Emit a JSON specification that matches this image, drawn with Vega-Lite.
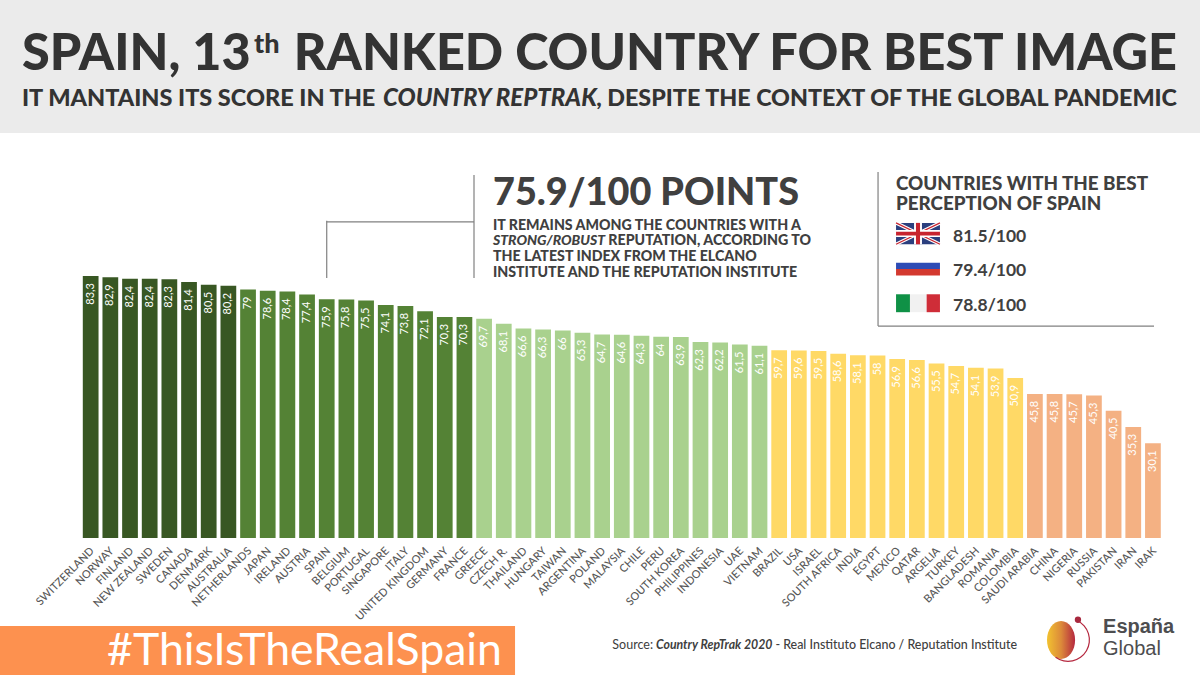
{
  "$schema": "https://vega.github.io/schema/vega-lite/v6.json",
  "width": 1200,
  "height": 675,
  "padding": 0,
  "autosize": {"type": "none"},
  "background": "#ffffff",
  "config": {"view": {"stroke": null}, "text": {"font": "Lato"}},
  "datasets": {
    "scores": [
      {"country": "SWITZERLAND", "score": 83.3, "tier": "Excellent"},
      {"country": "NORWAY", "score": 82.9, "tier": "Excellent"},
      {"country": "FINLAND", "score": 82.4, "tier": "Excellent"},
      {"country": "NEW ZEALAND", "score": 82.4, "tier": "Excellent"},
      {"country": "SWEDEN", "score": 82.3, "tier": "Excellent"},
      {"country": "CANADA", "score": 81.4, "tier": "Excellent"},
      {"country": "DENMARK", "score": 80.5, "tier": "Excellent"},
      {"country": "AUSTRALIA", "score": 80.2, "tier": "Excellent"},
      {"country": "NETHERLANDS", "score": 79, "tier": "Strong"},
      {"country": "JAPAN", "score": 78.6, "tier": "Strong"},
      {"country": "IRELAND", "score": 78.4, "tier": "Strong"},
      {"country": "AUSTRIA", "score": 77.4, "tier": "Strong"},
      {"country": "SPAIN", "score": 75.9, "tier": "Strong"},
      {"country": "BELGIUM", "score": 75.8, "tier": "Strong"},
      {"country": "PORTUGAL", "score": 75.5, "tier": "Strong"},
      {"country": "SINGAPORE", "score": 74.1, "tier": "Strong"},
      {"country": "ITALY", "score": 73.8, "tier": "Strong"},
      {"country": "UNITED KINGDOM", "score": 72.1, "tier": "Strong"},
      {"country": "GERMANY", "score": 70.3, "tier": "Strong"},
      {"country": "FRANCE", "score": 70.3, "tier": "Strong"},
      {"country": "GREECE", "score": 69.7, "tier": "Moderate"},
      {"country": "CZECH R.", "score": 68.1, "tier": "Moderate"},
      {"country": "THAILAND", "score": 66.6, "tier": "Moderate"},
      {"country": "HUNGARY", "score": 66.3, "tier": "Moderate"},
      {"country": "TAIWAN", "score": 66, "tier": "Moderate"},
      {"country": "ARGENTINA", "score": 65.3, "tier": "Moderate"},
      {"country": "POLAND", "score": 64.7, "tier": "Moderate"},
      {"country": "MALAYSIA", "score": 64.6, "tier": "Moderate"},
      {"country": "CHILE", "score": 64.3, "tier": "Moderate"},
      {"country": "PERU", "score": 64, "tier": "Moderate"},
      {"country": "SOUTH KOREA", "score": 63.9, "tier": "Moderate"},
      {"country": "PHILIPPINES", "score": 62.3, "tier": "Moderate"},
      {"country": "INDONESIA", "score": 62.2, "tier": "Moderate"},
      {"country": "UAE", "score": 61.5, "tier": "Moderate"},
      {"country": "VIETNAM", "score": 61.1, "tier": "Moderate"},
      {"country": "BRAZIL", "score": 59.7, "tier": "Weak"},
      {"country": "USA", "score": 59.6, "tier": "Weak"},
      {"country": "ISRAEL", "score": 59.5, "tier": "Weak"},
      {"country": "SOUTH AFRICA", "score": 58.6, "tier": "Weak"},
      {"country": "INDIA", "score": 58.1, "tier": "Weak"},
      {"country": "EGYPT", "score": 58, "tier": "Weak"},
      {"country": "MEXICO", "score": 56.9, "tier": "Weak"},
      {"country": "QATAR", "score": 56.6, "tier": "Weak"},
      {"country": "ARGELIA", "score": 55.5, "tier": "Weak"},
      {"country": "TURKEY", "score": 54.7, "tier": "Weak"},
      {"country": "BANGLADESH", "score": 54.1, "tier": "Weak"},
      {"country": "ROMANIA", "score": 53.9, "tier": "Weak"},
      {"country": "COLOMBIA", "score": 50.9, "tier": "Weak"},
      {"country": "SAUDI ARABIA", "score": 45.8, "tier": "Poor"},
      {"country": "CHINA", "score": 45.8, "tier": "Poor"},
      {"country": "NIGERIA", "score": 45.7, "tier": "Poor"},
      {"country": "RUSSIA", "score": 45.3, "tier": "Poor"},
      {"country": "PAKISTAN", "score": 40.5, "tier": "Poor"},
      {"country": "IRAN", "score": 35.3, "tier": "Poor"},
      {"country": "IRAK", "score": 30.1, "tier": "Poor"}
    ]
  },
  "resolve": {"scale": {"x": "independent"}},
  "layer": [
    {
      "data": {"name": "scores"},
      "encoding": {
        "x": {
          "field": "country",
          "type": "nominal",
          "sort": null,
          "title": null,
          "scale": {"range": [82.8, 1160.8], "paddingInner": 0.2, "paddingOuter": 0},
          "axis": {
            "orient": "bottom",
            "offset": -135,
            "domain": false,
            "ticks": false,
            "grid": false,
            "labelAngle": -45,
            "labelAlign": "right",
            "labelBaseline": "middle",
            "labelPadding": 9,
            "labelOffset": 2,
            "labelFont": "Lato",
            "labelFontSize": 11,
            "labelFontWeight": 500,
            "labelColor": "#595959",
            "labelOverlap": false
          }
        }
      },
      "layer": [
        {
          "mark": {"type": "bar"},
          "encoding": {
            "y": {
              "field": "score",
              "type": "quantitative",
              "stack": null,
              "title": null,
              "axis": null,
              "scale": {"domain": [-43.56, 171.07], "nice": false, "zero": false}
            },
            "color": {
              "field": "tier",
              "type": "nominal",
              "legend": null,
              "scale": {
                "domain": ["Excellent", "Strong", "Moderate", "Weak", "Poor"],
                "range": ["#385723", "#548235", "#a9d18e", "#ffd966", "#f4b183"]
              }
            }
          }
        },
        {
          "mark": {
            "type": "text",
            "angle": 270,
            "align": "right",
            "baseline": "middle",
            "dx": -7,
            "font": "Lato",
            "fontSize": 11,
            "color": "#ffffff",
            "text": {"expr": "replace('' + datum.score, '.', ',')"}
          },
          "encoding": {"y": {"field": "score", "type": "quantitative"}}
        },
        {
          "transform": [{"filter": "datum.country == 'SPAIN'"}],
          "mark": {"type": "rule", "color": "#808080", "strokeWidth": 1.2},
          "encoding": {"y": {"datum": 82.7}, "y2": {"datum": 100.9}}
        }
      ]
    },
    {
      "data": {"values": [{}]},
      "encoding": {
        "x": {"datum": 0, "type": "quantitative", "axis": null, "title": null, "scale": {"domain": [0, 1], "range": [0, 1200], "nice": false, "zero": false}}
      },
      "layer": [
        {"mark": {"type": "rect", "color": "#ebebeb"}, "encoding": {"x": {"datum": 0, "type": "quantitative"}, "x2": {"datum": 1}, "y": {"datum": 128.8}, "y2": {"datum": 171.07}}},
        {"mark": {"type": "rect", "color": "#fd914f"}, "encoding": {"x": {"datum": 0, "type": "quantitative"}, "x2": {"datum": 0.4292}, "y": {"datum": -28}, "y2": {"datum": -43.56}}},

        {"mark": {"type": "text", "text": "SPAIN, 13", "align": "left", "baseline": "alphabetic", "font": "Lato", "fontSize": 50.4, "fontWeight": 900, "color": "#333333"}, "encoding": {"x": {"datum": 0.0183, "type": "quantitative"}, "y": {"datum": 148.8}}},
        {"mark": {"type": "text", "text": "th", "align": "left", "baseline": "alphabetic", "font": "Lato", "fontSize": 27, "fontWeight": 900, "color": "#333333"}, "encoding": {"x": {"datum": 0.2117, "type": "quantitative"}, "y": {"datum": 154.2}}},
        {"mark": {"type": "text", "text": "RANKED COUNTRY FOR BEST IMAGE", "align": "right", "baseline": "alphabetic", "font": "Lato", "fontSize": 50.4, "fontWeight": 900, "color": "#333333"}, "encoding": {"x": {"datum": 0.9808, "type": "quantitative"}, "y": {"datum": 148.8}}},
        {"mark": {"type": "text", "text": "IT MANTAINS ITS SCORE IN THE", "align": "left", "baseline": "alphabetic", "font": "Lato", "fontSize": 23.5, "fontWeight": 900, "color": "#333333"}, "encoding": {"x": {"datum": 0.0183, "type": "quantitative"}, "y": {"datum": 137.4}}},
        {"mark": {"type": "text", "text": "COUNTRY REPTRAK", "align": "left", "baseline": "alphabetic", "font": "Lato", "fontSize": 24, "fontWeight": 900, "fontStyle": "italic", "color": "#333333"}, "encoding": {"x": {"datum": 0.3192, "type": "quantitative"}, "y": {"datum": 137.4}}},
        {"mark": {"type": "text", "text": ", DESPITE THE CONTEXT OF THE GLOBAL PANDEMIC", "align": "right", "baseline": "alphabetic", "font": "Lato", "fontSize": 23.3, "fontWeight": 900, "color": "#333333"}, "encoding": {"x": {"datum": 0.9808, "type": "quantitative"}, "y": {"datum": 137.4}}},

        {"mark": {"type": "rule", "color": "#808080", "strokeWidth": 1.2}, "encoding": {"x": {"datum": 0.395, "type": "quantitative"}, "y": {"datum": 82.7}, "y2": {"datum": 115.4}}},
        {"mark": {"type": "rule", "color": "#808080", "strokeWidth": 1.2}, "encoding": {"x": {"datum": 0.2723, "type": "quantitative"}, "x2": {"datum": 0.395}, "y": {"datum": 100.5}}},

        {"mark": {"type": "text", "text": "75.9/100 POINTS", "align": "left", "baseline": "alphabetic", "font": "Lato", "fontSize": 37.8, "fontWeight": 900, "color": "#404040"}, "encoding": {"x": {"datum": 0.4108, "type": "quantitative"}, "y": {"datum": 105.9}}},
        {"mark": {"type": "text", "text": "IT REMAINS AMONG THE COUNTRIES WITH A", "align": "left", "baseline": "alphabetic", "font": "Lato", "fontSize": 14.2, "fontWeight": 900, "color": "#404040"}, "encoding": {"x": {"datum": 0.4108, "type": "quantitative"}, "y": {"datum": 97.9}}},
        {"mark": {"type": "text", "text": "STRONG/ROBUST", "align": "left", "baseline": "alphabetic", "font": "Lato", "fontSize": 14, "fontWeight": 900, "fontStyle": "italic", "color": "#404040"}, "encoding": {"x": {"datum": 0.4108, "type": "quantitative"}, "y": {"datum": 93.2}}},
        {"mark": {"type": "text", "text": "REPUTATION, ACCORDING TO", "align": "right", "baseline": "alphabetic", "font": "Lato", "fontSize": 14.2, "fontWeight": 900, "color": "#404040"}, "encoding": {"x": {"datum": 0.6758, "type": "quantitative"}, "y": {"datum": 93.2}}},
        {"mark": {"type": "text", "text": "THE LATEST INDEX FROM THE ELCANO", "align": "left", "baseline": "alphabetic", "font": "Lato", "fontSize": 14.2, "fontWeight": 900, "color": "#404040"}, "encoding": {"x": {"datum": 0.4108, "type": "quantitative"}, "y": {"datum": 88.1}}},
        {"mark": {"type": "text", "text": "INSTITUTE AND THE REPUTATION INSTITUTE", "align": "left", "baseline": "alphabetic", "font": "Lato", "fontSize": 14.2, "fontWeight": 900, "color": "#404040"}, "encoding": {"x": {"datum": 0.4108, "type": "quantitative"}, "y": {"datum": 83}}},

        {"mark": {"type": "rule", "color": "#808080", "strokeWidth": 1.2}, "encoding": {"x": {"datum": 0.7317, "type": "quantitative"}, "y": {"datum": 67.4}, "y2": {"datum": 116.4}}},
        {"mark": {"type": "rule", "color": "#808080", "strokeWidth": 1.2}, "encoding": {"x": {"datum": 0.7317, "type": "quantitative"}, "x2": {"datum": 0.9617}, "y": {"datum": 67.4}}},
        {"mark": {"type": "text", "text": "COUNTRIES WITH THE BEST\nPERCEPTION OF SPAIN", "lineBreak": "\n", "lineHeight": 20.4, "align": "left", "baseline": "alphabetic", "font": "Lato", "fontSize": 18.8, "fontWeight": 900, "color": "#404040"}, "encoding": {"x": {"datum": 0.7467, "type": "quantitative"}, "y": {"datum": 110.7}}},
        {"mark": {"type": "text", "text": "81.5/100", "align": "left", "baseline": "alphabetic", "font": "Lato", "fontSize": 17.5, "fontWeight": 700, "color": "#404040"}, "encoding": {"x": {"datum": 0.7942, "type": "quantitative"}, "y": {"datum": 94.2}}},
        {"mark": {"type": "text", "text": "79.4/100", "align": "left", "baseline": "alphabetic", "font": "Lato", "fontSize": 17.5, "fontWeight": 700, "color": "#404040"}, "encoding": {"x": {"datum": 0.7942, "type": "quantitative"}, "y": {"datum": 83.3}}},
        {"mark": {"type": "text", "text": "78.8/100", "align": "left", "baseline": "alphabetic", "font": "Lato", "fontSize": 17.5, "fontWeight": 700, "color": "#404040"}, "encoding": {"x": {"datum": 0.7942, "type": "quantitative"}, "y": {"datum": 72.2}}},

        {"mark": {"type": "rect", "color": "#2b3f7e"}, "encoding": {"x": {"datum": 0.7467, "type": "quantitative"}, "x2": {"datum": 0.7833}, "y": {"datum": 93.4}, "y2": {"datum": 100.2}}},
        {"mark": {"type": "rule", "color": "#ffffff", "strokeWidth": 3.5}, "encoding": {"x": {"datum": 0.7467, "type": "quantitative"}, "x2": {"datum": 0.7833}, "y": {"datum": 100.2}, "y2": {"datum": 93.4}}},
        {"mark": {"type": "rule", "color": "#ffffff", "strokeWidth": 3.5}, "encoding": {"x": {"datum": 0.7467, "type": "quantitative"}, "x2": {"datum": 0.7833}, "y": {"datum": 93.4}, "y2": {"datum": 100.2}}},
        {"mark": {"type": "rule", "color": "#c8242f", "strokeWidth": 1.2}, "encoding": {"x": {"datum": 0.7467, "type": "quantitative"}, "x2": {"datum": 0.7833}, "y": {"datum": 100.2}, "y2": {"datum": 93.4}}},
        {"mark": {"type": "rule", "color": "#c8242f", "strokeWidth": 1.2}, "encoding": {"x": {"datum": 0.7467, "type": "quantitative"}, "x2": {"datum": 0.7833}, "y": {"datum": 93.4}, "y2": {"datum": 100.2}}},
        {"mark": {"type": "rect", "color": "#ffffff"}, "encoding": {"x": {"datum": 0.7617, "type": "quantitative"}, "x2": {"datum": 0.7683}, "y": {"datum": 93.4}, "y2": {"datum": 100.2}}},
        {"mark": {"type": "rect", "color": "#ffffff"}, "encoding": {"x": {"datum": 0.7467, "type": "quantitative"}, "x2": {"datum": 0.7833}, "y": {"datum": 95.7}, "y2": {"datum": 97.9}}},
        {"mark": {"type": "rect", "color": "#c8242f"}, "encoding": {"x": {"datum": 0.7633, "type": "quantitative"}, "x2": {"datum": 0.7667}, "y": {"datum": 93.4}, "y2": {"datum": 100.2}}},
        {"mark": {"type": "rect", "color": "#c8242f"}, "encoding": {"x": {"datum": 0.7467, "type": "quantitative"}, "x2": {"datum": 0.7833}, "y": {"datum": 96.2}, "y2": {"datum": 97.4}}},

        {"mark": {"type": "rect", "color": "#ffffff"}, "encoding": {"x": {"datum": 0.7467, "type": "quantitative"}, "x2": {"datum": 0.7833}, "y": {"datum": 87.5}, "y2": {"datum": 89.0}}},
        {"mark": {"type": "rect", "color": "#2d4bb5"}, "encoding": {"x": {"datum": 0.7467, "type": "quantitative"}, "x2": {"datum": 0.7833}, "y": {"datum": 85.5}, "y2": {"datum": 87.5}}},
        {"mark": {"type": "rect", "color": "#d3392f"}, "encoding": {"x": {"datum": 0.7467, "type": "quantitative"}, "x2": {"datum": 0.7833}, "y": {"datum": 83.5}, "y2": {"datum": 85.5}}},

        {"mark": {"type": "rect", "color": "#0f9146"}, "encoding": {"x": {"datum": 0.7467, "type": "quantitative"}, "x2": {"datum": 0.7583}, "y": {"datum": 71.8}, "y2": {"datum": 77.5}}},
        {"mark": {"type": "rect", "color": "#f1f1f1"}, "encoding": {"x": {"datum": 0.7583, "type": "quantitative"}, "x2": {"datum": 0.7722}, "y": {"datum": 71.8}, "y2": {"datum": 77.5}}},
        {"mark": {"type": "rect", "color": "#cf2d38"}, "encoding": {"x": {"datum": 0.7722, "type": "quantitative"}, "x2": {"datum": 0.7833}, "y": {"datum": 71.8}, "y2": {"datum": 77.5}}},

        {"mark": {"type": "text", "text": "#ThisIsTheRealSpain", "align": "right", "baseline": "alphabetic", "font": "Lato", "fontSize": 44.6, "fontWeight": 400, "color": "#ffffff"}, "encoding": {"x": {"datum": 0.4183, "type": "quantitative"}, "y": {"datum": -40.4}}},
        {"mark": {"type": "text", "text": "Source:", "align": "left", "baseline": "alphabetic", "font": "Lato", "fontSize": 12.5, "color": "#404040"}, "encoding": {"x": {"datum": 0.5103, "type": "quantitative"}, "y": {"datum": -35.2}}},
        {"mark": {"type": "text", "text": "Country RepTrak 2020", "align": "left", "baseline": "alphabetic", "font": "Lato", "fontSize": 12.3, "fontWeight": 700, "fontStyle": "italic", "color": "#404040"}, "encoding": {"x": {"datum": 0.5467, "type": "quantitative"}, "y": {"datum": -35.2}}},
        {"mark": {"type": "text", "text": "- Real Instituto Elcano / Reputation Institute", "align": "right", "baseline": "alphabetic", "font": "Lato", "fontSize": 12.45, "fontWeight": 500, "color": "#404040"}, "encoding": {"x": {"datum": 0.8475, "type": "quantitative"}, "y": {"datum": -35.2}}},
        {"mark": {"type": "text", "text": "España", "align": "left", "baseline": "alphabetic", "font": "Liberation Sans", "fontSize": 20, "fontWeight": 700, "color": "#4d4d4f"}, "encoding": {"x": {"datum": 0.9192, "type": "quantitative"}, "y": {"datum": -30.2}}},
        {"mark": {"type": "text", "text": "Global", "align": "left", "baseline": "alphabetic", "font": "Liberation Sans", "fontSize": 20, "fontWeight": 400, "color": "#4d4d4f"}, "encoding": {"x": {"datum": 0.9192, "type": "quantitative"}, "y": {"datum": -37.2}}},
        {
          "mark": {
            "type": "point",
            "filled": true,
            "opacity": 1,
            "size": 1444,
            "shape": "M0,-1 A0.74,1 0 1,0 0,1 A0.74,1 0 1,0 0,-1 Z",
            "color": {"x1": 0, "y1": 0, "x2": 1, "y2": 0, "gradient": "linear", "stops": [{"offset": 0, "color": "#f2c230"}, {"offset": 0.5, "color": "#dc8a3a"}, {"offset": 1, "color": "#b5283f"}]}
          },
          "encoding": {"x": {"datum": 0.8842, "type": "quantitative"}, "y": {"datum": -32.4}}
        },
        {
          "mark": {"type": "arc", "innerRadius": 20.8, "outerRadius": 22, "theta": 0.44, "theta2": 3.76, "color": "#b5283f"},
          "encoding": {"x": {"datum": 0.89, "type": "quantitative"}, "y": {"datum": -32.4}}
        },
        {
          "mark": {"type": "point", "filled": true, "opacity": 1, "size": 40, "shape": "circle", "color": "#a8283e"},
          "encoding": {"x": {"datum": 0.8983, "type": "quantitative"}, "y": {"datum": -26}}
        }
      ]
    }
  ]
}
